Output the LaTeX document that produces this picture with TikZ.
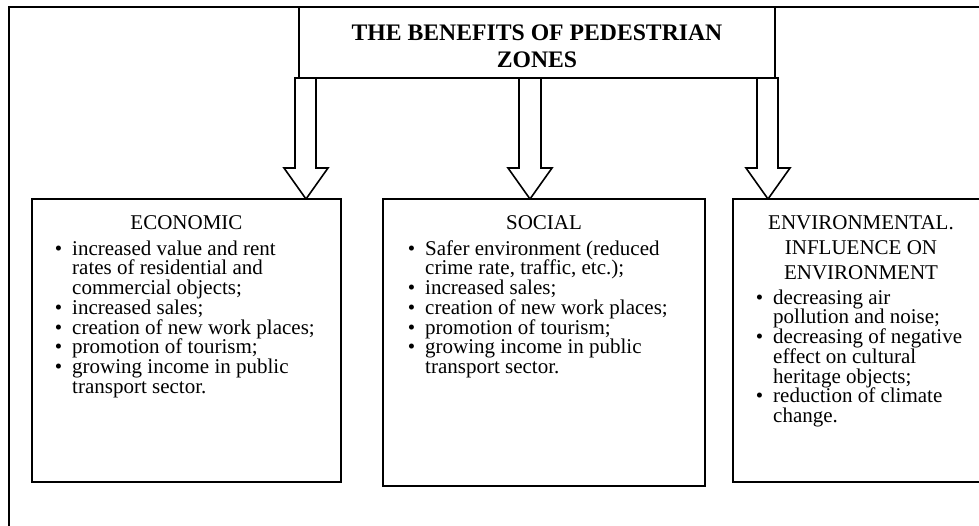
\documentclass[tikz,border=0pt]{standalone}
\usepackage{fontspec}
\setmainfont{Liberation Serif}
\newcommand{\bul}{\llap{\textbullet\hspace{10pt}}}
\newcommand{\topstrut}{\rule{0pt}{16pt}}
\begin{document}
\begin{tikzpicture}[x=1pt,y=-1pt,line join=miter,
  frame/.style={line width=1.3pt},
  boxst/.style={draw,line width=1.6pt,inner sep=0,fill=white},
  head/.style={font=\fontsize{21}{25}\selectfont,align=center,inner sep=0,anchor=north},
  items/.style={font=\fontsize{21}{19.7}\selectfont,align=left,inner sep=0,anchor=north west},
  barrow/.style={draw,line width=1.6pt,fill=white}]
\useasboundingbox (0,0) rectangle (979,525);
% outer frame (cropped on the right and bottom)
\draw[frame] (9,540) -- (9,7) -- (995,7);
% block arrows
\draw[barrow] (295,78) -- (295,168) -- (284,168) -- (306,199) -- (328,168) -- (316,168) -- (316,78) -- cycle;
\draw[barrow] (519,78) -- (519,168) -- (508,168) -- (530,199) -- (552,168) -- (541,168) -- (541,78) -- cycle;
\draw[barrow] (757,78) -- (757,168) -- (746,168) -- (768,199) -- (790,168) -- (778,168) -- (778,78) -- cycle;
% title
\node[draw,line width=1.6pt,inner sep=0,minimum width=476pt,minimum height=71pt] (title) at (537,42.5) {};
\node[font=\bfseries\fontsize{23.7}{27}\selectfont,align=center,inner sep=0,anchor=north] (titletext) at (537,23)
  {\rule{0pt}{17pt}THE BENEFITS OF PEDESTRIAN\\ZONES};
% boxes
\node[boxst,minimum width=309pt,minimum height=283pt] (econ) at (186.5,340.5) {};
\node[boxst,minimum width=322pt,minimum height=287pt] (soc) at (544,342.5) {};
\node[boxst,minimum width=256pt,minimum height=283pt] (env) at (861,340.5) {};
% economic
\node[head] (econhead) at (186.5,213) {\topstrut ECONOMIC};
\node[items] (econitems) at (72,239) {\topstrut\bul increased value and rent\\
rates of residential and\\
commercial objects;\\
\bul increased sales;\\
\bul creation of new work places;\\
\bul promotion of tourism;\\
\bul growing income in public\\
transport sector.};
% social
\node[head] (sochead) at (544,213) {\topstrut SOCIAL};
\node[items] (socitems) at (425,239) {\topstrut\bul Safer environment (reduced\\
crime rate, traffic, etc.);\\
\bul increased sales;\\
\bul creation of new work places;\\
\bul promotion of tourism;\\
\bul growing income in public\\
transport sector.};
% environmental
\node[head] (envhead) at (861,213) {\topstrut ENVIRONMENTAL.\\INFLUENCE ON\\ENVIRONMENT};
\node[items] (envitems) at (773,288) {\topstrut\bul decreasing air\\
pollution and noise;\\
\bul decreasing of negative\\
effect on cultural\\
heritage objects;\\
\bul reduction of climate\\
change.};
\end{tikzpicture}
\end{document}
